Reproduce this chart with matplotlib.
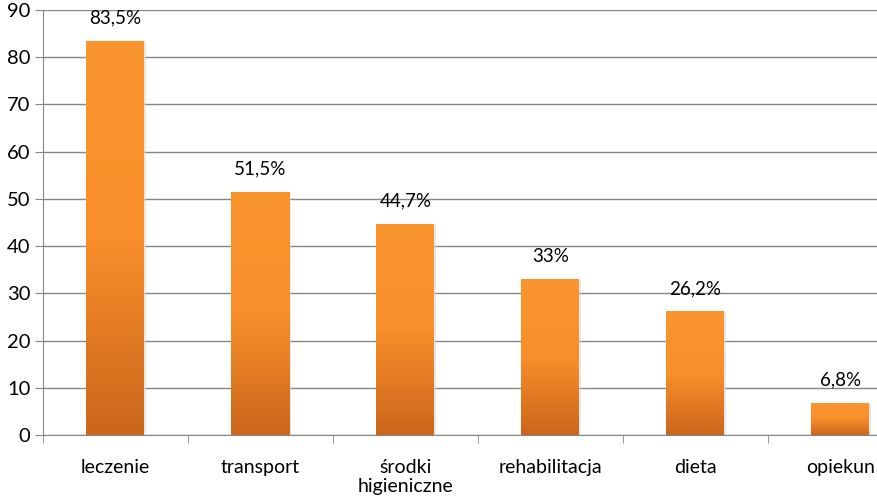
import matplotlib.pyplot as plt
from matplotlib.colors import LinearSegmentedColormap
import numpy as np

plt.rcParams['font.family'] = ['Lato', 'DejaVu Sans']

# Data
categories = ['leczenie', 'transport', 'środki\nhigieniczne', 'rehabilitacja', 'dieta', 'opiekun']
values = [83.5, 51.5, 44.7, 33, 26.2, 6.8]
value_labels = ['83,5%', '51,5%', '44,7%', '33%', '26,2%', '6,8%']

fig = plt.figure(figsize=(8.77, 4.96), dpi=100)
# axes extends past the right edge, as in the original
ax = fig.add_axes([43 / 877, 1 - 435 / 496, 870 / 877, 425 / 496])

x = np.arange(len(categories))
bars = ax.bar(x, values, width=0.4, color='none', zorder=3)

# orange vertical gradient on each bar
cmap = LinearSegmentedColormap.from_list('org', ['#cb661c', '#f98f2a', '#fb952f'])
grad = np.linspace(0, 1, 256).reshape(-1, 1)
for b in bars:
    x0, w, h = b.get_x(), b.get_width(), b.get_height()
    # light shadow
    ax.bar(x0 + w / 2 + 0.012, h, width=w, bottom=-0.15, color='#d8d8d8', zorder=2, alpha=0.6)
    im = ax.imshow(grad, extent=[x0, x0 + w, 0, h], origin='lower', cmap=cmap,
                   aspect='auto', zorder=4)
    im.set_clip_path(b)

for xi, v, lab in zip(x, values, value_labels):
    ax.text(xi, v + 3.0, lab, ha='center', va='bottom', fontsize=13.5, color='black', zorder=5)

ax.set_xlim(-0.5, len(categories) - 0.5)
ax.set_ylim(0, 90)
ax.set_yticks(range(0, 91, 10))
ax.tick_params(axis='y', labelsize=14.5, length=6, color='#868686', pad=3)
ax.set_xticks(x)
ax.set_xticklabels(categories, fontsize=14, linespacing=1.2)
ax.set_xticks(np.arange(-0.5, len(categories), 1), minor=True)
ax.tick_params(axis='x', which='major', length=0, pad=17)
ax.tick_params(axis='x', which='minor', length=6, color='#868686')
ax.grid(axis='y', color='#868686', linewidth=1, zorder=0)
for s in ['top', 'right']:
    ax.spines[s].set_visible(False)
for s in ['left', 'bottom']:
    ax.spines[s].set_color('#868686')

fig.savefig('out.png', dpi=100)
